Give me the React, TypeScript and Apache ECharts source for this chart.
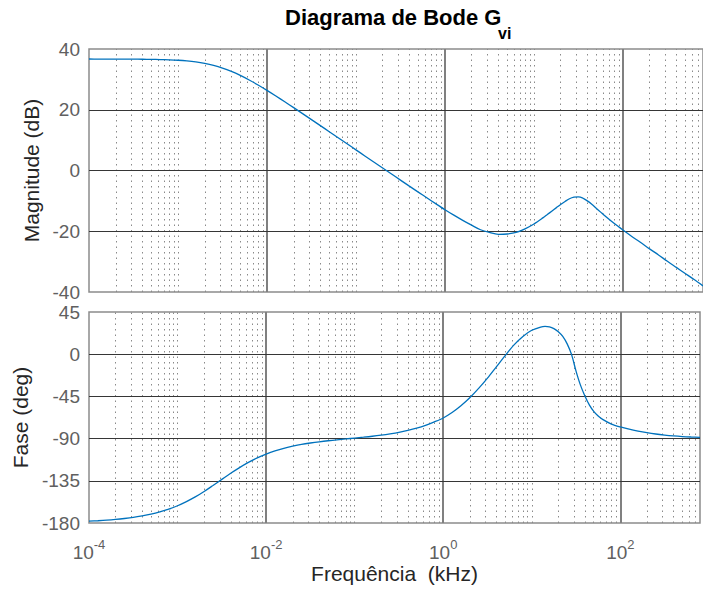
import React, { useEffect, useRef } from "react";
import * as echarts from "echarts";

// Frequency (kHz)
const freqKHz = [
  1e-4, 1.259e-4, 1.585e-4, 1.995e-4, 2.512e-4, 3.162e-4, 3.981e-4, 5.012e-4, 6.31e-4, 7.943e-4,
  1e-3, 1.259e-3, 1.585e-3, 1.995e-3, 2.512e-3, 3.162e-3, 3.981e-3, 5.012e-3, 6.31e-3, 7.943e-3,
  0.01, 0.01259, 0.01585, 0.01995, 0.02512, 0.03162, 0.03981, 0.05012, 0.0631, 0.07943,
  0.1, 0.1259, 0.1585, 0.1995, 0.2512, 0.3162, 0.3981, 0.5012, 0.631, 0.7943,
  1, 1.259, 1.585, 1.995, 2.512, 3.162, 3.981, 5.012, 6.31, 7.943,
  10, 12.59, 14.13, 15.85, 17.78, 19.95, 22.39, 25.12, 28.18, 31.62, 35.48, 39.81, 44.67, 50.12, 56.23, 63.1, 79.43,
  100, 125.9, 158.5, 199.5, 251.2, 316.2, 398.1, 501.2, 631, 794.3,
];

// Magnitude (dB)
const magnitudeDB = [
  36.7, 36.69, 36.69, 36.68, 36.67, 36.66, 36.63, 36.6, 36.53, 36.44,
  36.3, 36.08, 35.75, 35.27, 34.61, 33.74, 32.64, 31.32, 29.81, 28.15,
  26.38, 24.53, 22.63, 20.69, 18.73, 16.76, 14.77, 12.78, 10.79, 8.79,
  6.8, 4.8, 2.81, 0.82, -1.17, -3.16, -5.14, -7.11, -9.06, -11.0,
  -12.9, -14.7, -16.4, -18.0, -19.5, -20.4, -21.0, -20.9, -20.4, -19.2,
  -17.6, -15.6, -14.5, -13.4, -12.3, -11.2, -10.2, -9.3, -8.8, -8.7, -9.1, -10.0, -11.1, -12.4, -13.7, -15.0, -17.4,
  -19.6, -21.7, -23.7, -25.8, -27.8, -29.9, -31.9, -33.9, -35.9, -38.0,
];

// Phase (deg)
const phaseDeg = [
  -178.1, -177.6, -177.0, -176.2, -175.2, -174.0, -172.4, -170.5, -168.1, -165.2,
  -161.6, -157.2, -152.2, -146.4, -140.0, -133.5, -127.0, -120.9, -115.4, -110.5,
  -106.5, -103.1, -100.3, -98.1, -96.2, -94.7, -93.4, -92.3, -91.3, -90.4,
  -89.4, -88.5, -87.5, -86.3, -84.9, -83.3, -81.3, -78.9, -75.9, -72.2,
  -68.0, -62.2, -55.0, -46.5, -36.5, -25.5, -13.5, -1.5, 10.0, 19.0,
  25.5, 29.0, 29.7, 29.2, 27.3, 24.0, 19.0, 11.0, -0.5, -18.0, -33.0, -44.5, -54.0, -61.0, -66.0, -69.5, -74.5,
  -77.6, -80.0, -82.0, -83.7, -85.1, -86.2, -87.1, -87.8, -88.3, -88.7,
];

// Axis ticks
const magTicks = [40, 20, 0, -20, -40];
const phaseTicks = [45, 0, -45, -90, -135, -180];
const labeledDecades = [-4, -2, 0, 2];
const X_MIN = 1e-4;
const X_MAX = 794.3;

const FONT = '"Liberation Sans", Arial, Helvetica, sans-serif';
const TICK_COLOR = "#606060";
const TITLE_COLOR = "#262626";

export default function App() {
  const ref = useRef<HTMLDivElement>(null);

  useEffect(() => {
    const chart = echarts.init(ref.current!, null, { renderer: "svg" });

    const magData = freqKHz.map((f, i) => [f, magnitudeDB[i]]);
    const phaseData = freqKHz.map((f, i) => [f, phaseDeg[i]]);

    const minorX: number[] = [];
    const majorX: number[] = [];
    for (let k = -4; k <= 2; k++) {
      for (let m = 1; m <= 9; m++) {
        const v = m * Math.pow(10, k);
        if (v <= X_MIN * 1.0001 || v >= X_MAX) continue;
        if (m === 1 && labeledDecades.indexOf(k) >= 0) majorX.push(v);
        else minorX.push(v);
      }
    }

    const gridLines = (ticks: number[]) => {
      const inner = ticks.slice(1, ticks.length - 1);
      return [
        ...minorX.map((v) => ({
          xAxis: v,
          lineStyle: { type: [1.5, 4], color: "#8a8a8a", width: 1 },
        })),
        ...majorX.map((v) => ({
          xAxis: v,
          lineStyle: { type: "solid", color: "#808080", width: 2 },
        })),
        ...inner.map((v) => ({
          yAxis: v,
          lineStyle: { type: "solid", color: "#363636", width: 1 },
        })),
      ];
    };

    const xLabelFormatter = (value: number) => {
      const e = Math.log10(value);
      const r = Math.round(e);
      if (Math.abs(e - r) > 1e-6 || labeledDecades.indexOf(r) < 0) return "";
      return `{b|10}{s|${r}}`;
    };

    const xAxisBase = {
      type: "log" as const,
      logBase: 10,
      min: X_MIN,
      max: X_MAX,
      axisLine: { show: false },
      axisTick: { show: false },
      splitLine: { show: false },
    };

    const yAxisBase = {
      type: "value" as const,
      axisLine: { show: false },
      axisTick: { show: false },
      splitLine: { show: false },
      nameLocation: "middle" as const,
      nameGap: 44,
      nameTextStyle: { fontSize: 21, color: TITLE_COLOR, fontFamily: FONT },
      axisLabel: { fontSize: 19, color: TICK_COLOR, margin: 9, fontFamily: FONT },
    };

    const markLineBase = {
      silent: true,
      precision: 12,
      symbol: ["none", "none"],
      label: { show: false },
    };

    const option: any = {
      animation: false,
      textStyle: { fontFamily: FONT },
      grid: [
        { left: 89, top: 49, width: 614, height: 243, show: true, borderColor: "#8c8c8c", borderWidth: 1.5, backgroundColor: "#fff" },
        { left: 89, top: 312, width: 614, height: 211, show: true, borderColor: "#8c8c8c", borderWidth: 1.5, backgroundColor: "#fff" },
      ],
      xAxis: [
        { ...xAxisBase, gridIndex: 0, axisLabel: { show: false } },
        {
          ...xAxisBase,
          gridIndex: 1,
          name: "Frequência  (kHz)",
          nameLocation: "middle",
          nameGap: 40,
          nameTextStyle: { fontSize: 21, color: TITLE_COLOR, fontFamily: FONT },
          axisLabel: {
            show: true,
            margin: 15,
            formatter: xLabelFormatter,
            rich: {
              b: { fontSize: 19, color: TICK_COLOR, lineHeight: 24, verticalAlign: "bottom", fontFamily: FONT },
              s: { fontSize: 13, color: TICK_COLOR, lineHeight: 14, verticalAlign: "top", fontFamily: FONT },
            },
          },
        },
      ],
      yAxis: [
        { ...yAxisBase, gridIndex: 0, min: -40, max: 40, interval: 20, name: "Magnitude (dB)" },
        { ...yAxisBase, gridIndex: 1, min: -180, max: 45, interval: 45, name: "Fase (deg)" },
      ],
      graphic: [
        { type: "text", left: 285, top: 6, style: { text: "Diagrama de Bode G", font: `bold 22px ${FONT}`, fill: "#000" } },
        { type: "text", left: 498, top: 25, style: { text: "vi", font: `bold 16px ${FONT}`, fill: "#000" } },
      ],
      series: [
        {
          type: "line",
          xAxisIndex: 0,
          yAxisIndex: 0,
          data: magData,
          symbol: "none",
          silent: true,
          z: 1,
          lineStyle: { opacity: 0 },
          markLine: { ...markLineBase, data: gridLines(magTicks) },
        },
        {
          type: "line",
          xAxisIndex: 1,
          yAxisIndex: 1,
          data: phaseData,
          symbol: "none",
          silent: true,
          z: 1,
          lineStyle: { opacity: 0 },
          markLine: { ...markLineBase, data: gridLines(phaseTicks) },
        },
        {
          name: "Magnitude",
          type: "line",
          xAxisIndex: 0,
          yAxisIndex: 0,
          data: magData,
          symbol: "none",
          smooth: 0.3,
          z: 10,
          lineStyle: { color: "#0072BD", width: 1.3 },
        },
        {
          name: "Fase",
          type: "line",
          xAxisIndex: 1,
          yAxisIndex: 1,
          data: phaseData,
          symbol: "none",
          smooth: 0.3,
          z: 10,
          lineStyle: { color: "#0072BD", width: 1.3 },
        },
      ],
    };

    chart.setOption(option);
    return () => chart.dispose();
  }, []);

  return (
    <div
      ref={ref}
      style={{ position: "absolute", left: 0, top: 0, width: 703, height: 590, background: "#fff" }}
    />
  );
}
